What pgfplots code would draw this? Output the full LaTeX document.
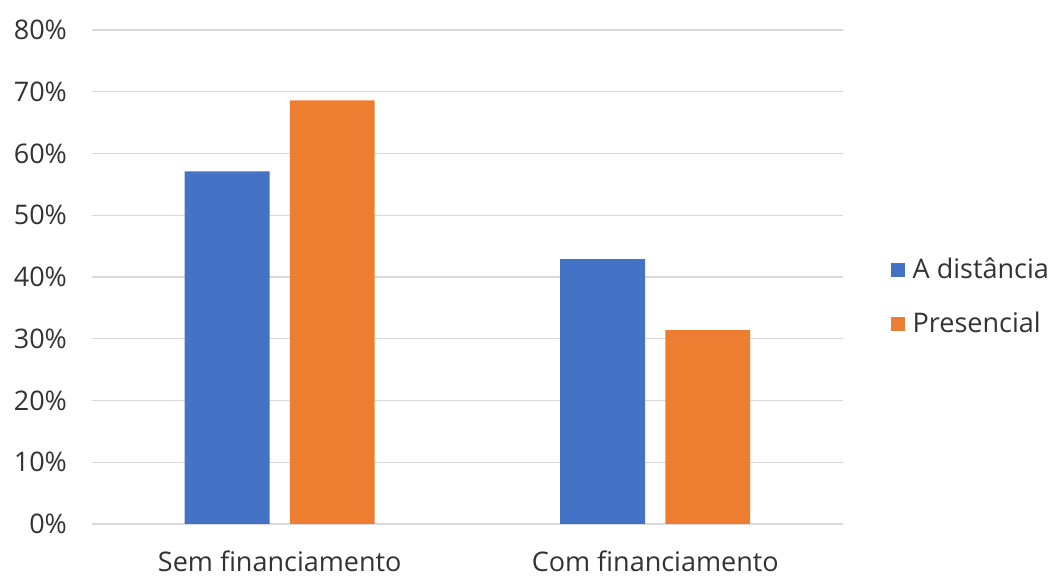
\documentclass[border=0pt]{standalone}
\usepackage{fontspec}
\setmainfont{Open Sans}
\usepackage{pgfplots}
\pgfplotsset{compat=1.18}
\definecolor{cblue}{HTML}{4472C4}
\definecolor{corange}{HTML}{ED7D31}
\definecolor{cgrid}{HTML}{D9D9D9}
\definecolor{ctext}{HTML}{333333}
\begin{document}
\begin{tikzpicture}
\path[use as bounding box] (-46pt,-26.5pt) rectangle (479.5pt,262pt);
\begin{axis}[
  at={(0,0)}, anchor=south west,
  scale only axis, width=375.5pt, height=247pt,
  ymin=0, ymax=80, ytick={0,10,...,80},
  yticklabel={\pgfmathprintnumber{\tick}\%},
  xmin=-0.5, xmax=1.5,
  xtick={0,1}, xticklabels={Sem financiamento, Com financiamento},
  ybar, bar width=0.226,
  axis line style={draw=none},
  axis x line*=bottom,
  x axis line style={draw=cgrid, line width=0.6pt},
  ymajorgrids, grid style={cgrid, line width=0.6pt},
  major tick length=0pt,
  tick label style={font=\fontsize{13.5}{15}\selectfont, text=ctext},
  /pgf/number format/assume math mode=true,
  yticklabel style={xshift=-9pt},
  xticklabel style={yshift=-10pt},
  legend style={draw=none, at={(1.055,0.46)}, anchor=west,
    font=\fontsize{13.5}{15}\selectfont, text=ctext,
    row sep=11pt, legend cell align=left,
    nodes={inner xsep=4pt}},
  legend image code/.code={\fill[#1] (0pt,-3.5pt) rectangle (7pt,3.5pt);},
]
\addplot[fill=cblue, draw=none, bar shift=-0.14] coordinates {(0,57.1) (1,42.9)};
\addplot[fill=corange, draw=none, bar shift=0.14] coordinates {(0,68.6) (1,31.4)};
\legend{A distância, Presencial}
\end{axis}
\end{tikzpicture}
\end{document}
